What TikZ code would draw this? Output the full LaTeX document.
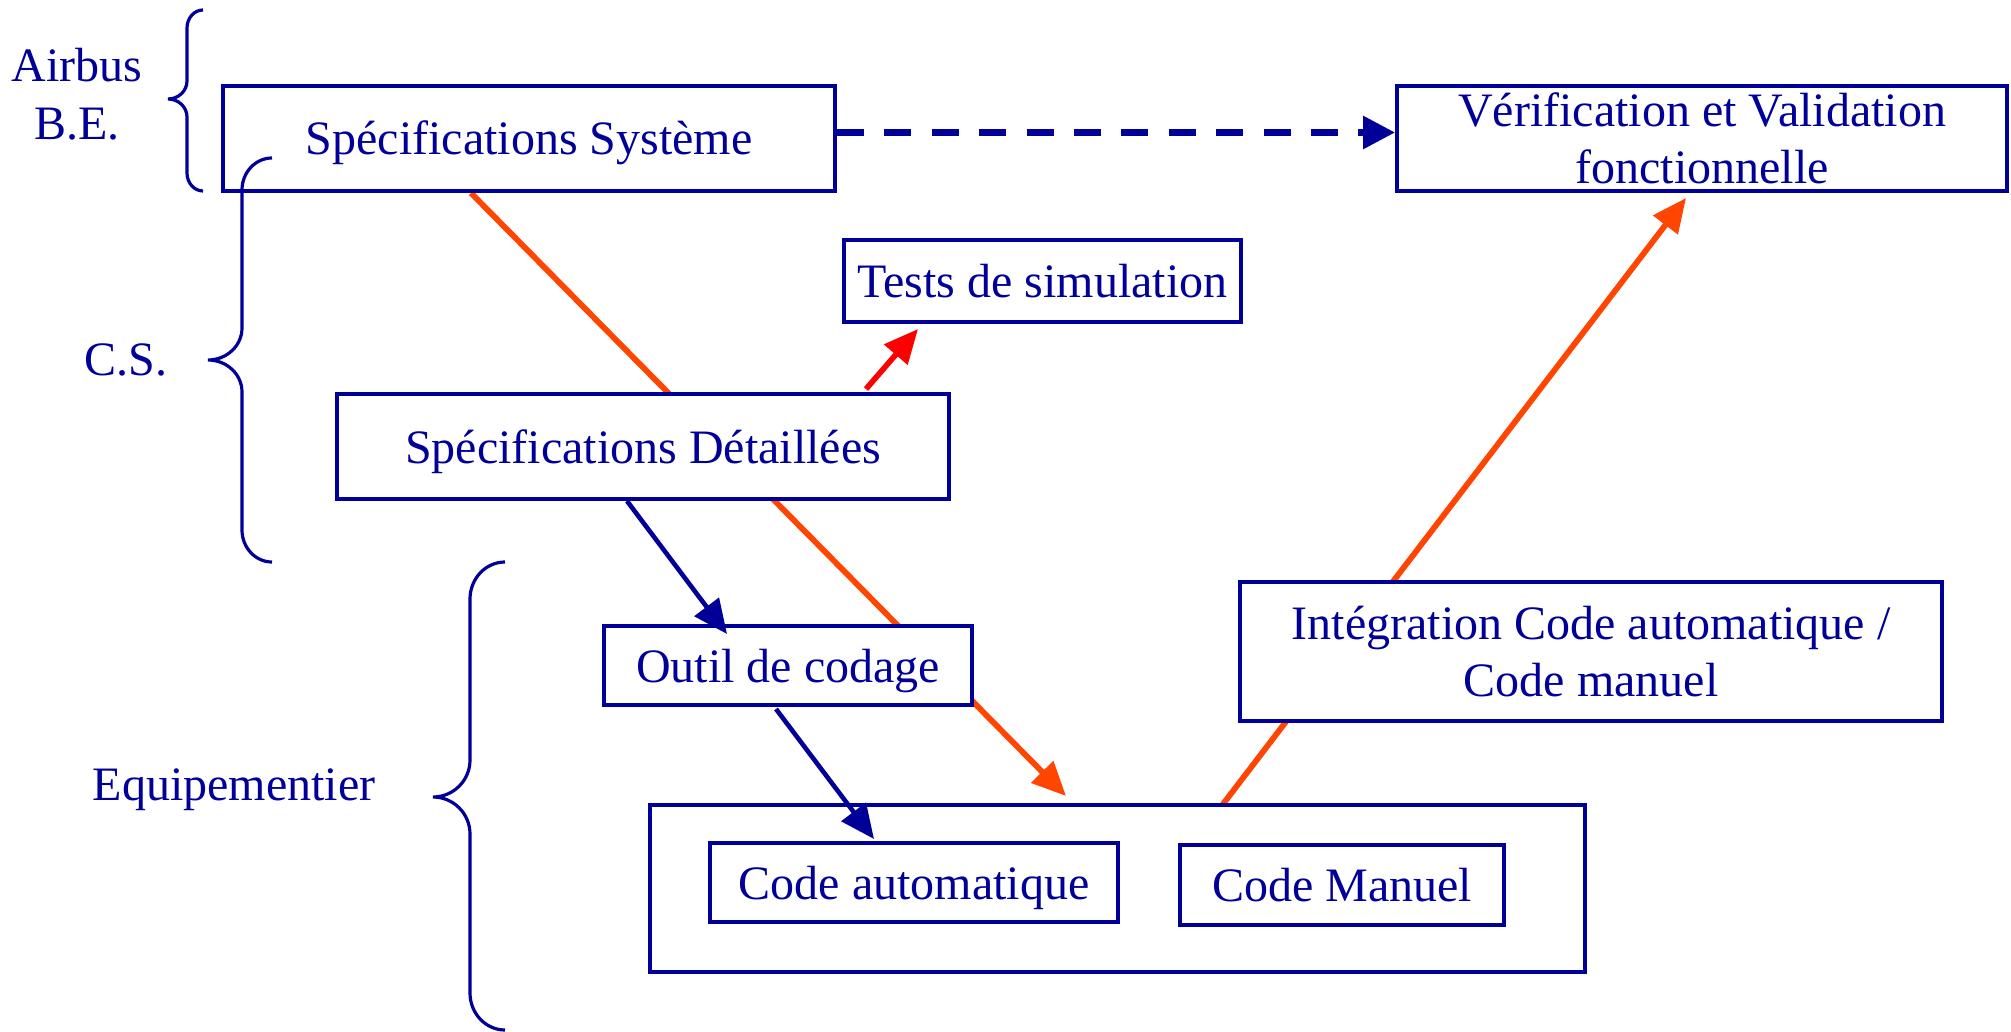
\documentclass[tikz,border=0pt]{standalone}
\usepackage{fontspec}
\setmainfont{Liberation Serif}
\usetikzlibrary{arrows.meta}
\definecolor{navy}{RGB}{0,0,153}
\definecolor{vorange}{RGB}{255,69,0}
\definecolor{vred}{RGB}{255,0,0}
\pgfdeclarelayer{back}
\pgfsetlayers{back,main}
% curly brace made of round quarter arcs:
% #1 x of the ends, #2 x of the stem, #3 x of the tip,
% #4 top y, #5 tip y, #6 bottom y, #7 curl height
\newcommand\curlybrace[7]{%
  \draw[bracestyle] (#1,#4)
    .. controls ({#1-0.552*(#1-#2)},#4) and (#2,{#4+0.448*#7}) .. (#2,{#4+#7})
    -- (#2,{#5-#7})
    .. controls (#2,{#5-0.448*#7}) and ({#3+0.552*(#2-#3)},#5) .. (#3,#5)
    .. controls ({#3+0.552*(#2-#3)},#5) and (#2,{#5+0.448*#7}) .. (#2,{#5+#7})
    -- (#2,{#6-#7})
    .. controls (#2,{#6-0.448*#7}) and ({#1-0.552*(#1-#2)},#6) .. (#1,#6);}
\begin{document}
\begin{tikzpicture}[x=0.5pt,y=-0.5pt,
  font=\fontsize{24pt}{28.5pt}\selectfont,
  every node/.style={text=navy},
  box/.style={draw=navy, line width=2pt, fill=white, inner sep=0pt, align=center},
  oneline/.style={text height=16.5pt, text depth=0pt},
  lbl/.style={anchor=base, inner sep=0pt},
  bracestyle/.style={draw=navy, line width=1.6pt},
  headtip/.style={-{Triangle[length=17pt,width=15pt]}},
  oline/.style={draw=vorange, line width=2.9pt, headtip},
  rline/.style={draw=vred, line width=2.8pt, headtip},
  bline/.style={draw=navy, line width=2.3pt, headtip},
  dline/.style={draw=navy, line width=3.1pt, dash pattern=on 13.5pt off 10.2pt,
                -{Triangle[length=16pt,width=16pt]}}]
\useasboundingbox (0,0) rectangle (2011,1032);

% boxes
\node[box, oneline, minimum width=306pt, minimum height=52.5pt] (sys) at (529,138.5) {Spécifications Système};
\node[box, minimum width=305pt, minimum height=52.5pt] (ver) at (1702,138.5) {Vérification et Validation\\fonctionnelle};
\node[box, oneline, minimum width=198.5pt, minimum height=41pt] (tests) at (1042.5,281) {Tests de simulation};
\node[box, oneline, minimum width=306pt, minimum height=52.5pt] (det) at (643,446.5) {Spécifications Détaillées};
\node[box, oneline, minimum width=184pt, minimum height=39.5pt] (outil) at (788,665.5) {Outil de codage};
\node[box, minimum width=351pt, minimum height=69.5pt] (integ) at (1591,651.5) {Intégration Code automatique /\\Code manuel};
\node[box, minimum width=467.5pt, minimum height=83.5pt] (group) at (1117.5,888.5) {};
\node[box, oneline, minimum width=204pt, minimum height=39.5pt] (auto) at (914,882.5) {Code automatique};
\node[box, oneline, minimum width=162pt, minimum height=40pt] (manuel) at (1342,885) {Code Manuel};

% side labels
\node[lbl] (airbus) at (77,82) {Airbus};
\node[lbl] (be) at (77,140) {B.E.};
\node[lbl] (cs) at (126,375) {C.S.};
\node[lbl] (equip) at (234,800) {Equipementier};

% braces
\curlybrace{203}{187}{168}{10}{99}{191}{18}
\curlybrace{272}{242}{208}{158}{360}{562}{32}
\curlybrace{505}{470}{433}{562}{797}{1030}{37}

% orange flow, passing behind the boxes
\begin{pgfonlayer}{back}
\draw[oline] ([xshift=-29pt]sys.south) -- ([xshift=-25.75pt,yshift=3.5pt]group.north);
\draw[oline] ([xshift=51.25pt,yshift=-2.5pt]group.north) -- ([xshift=-8pt,yshift=-2.5pt]ver.south);
\end{pgfonlayer}

% other connectors
\draw[rline] ([xshift=111.5pt,yshift=1.5pt]det.north) -- ([xshift=-62.25pt,yshift=-2.5pt]tests.south);
\draw[bline] ([xshift=-8pt]det.south) -- ([xshift=-30.5pt,yshift=-5pt]outil.north);
\draw[bline] ([xshift=-6pt,yshift=-1pt]outil.south) -- ([xshift=-20pt,yshift=1pt]auto.north);
\draw[dline] ([yshift=3pt]sys.east) -- ([yshift=3pt]ver.west);
\end{tikzpicture}
\end{document}
